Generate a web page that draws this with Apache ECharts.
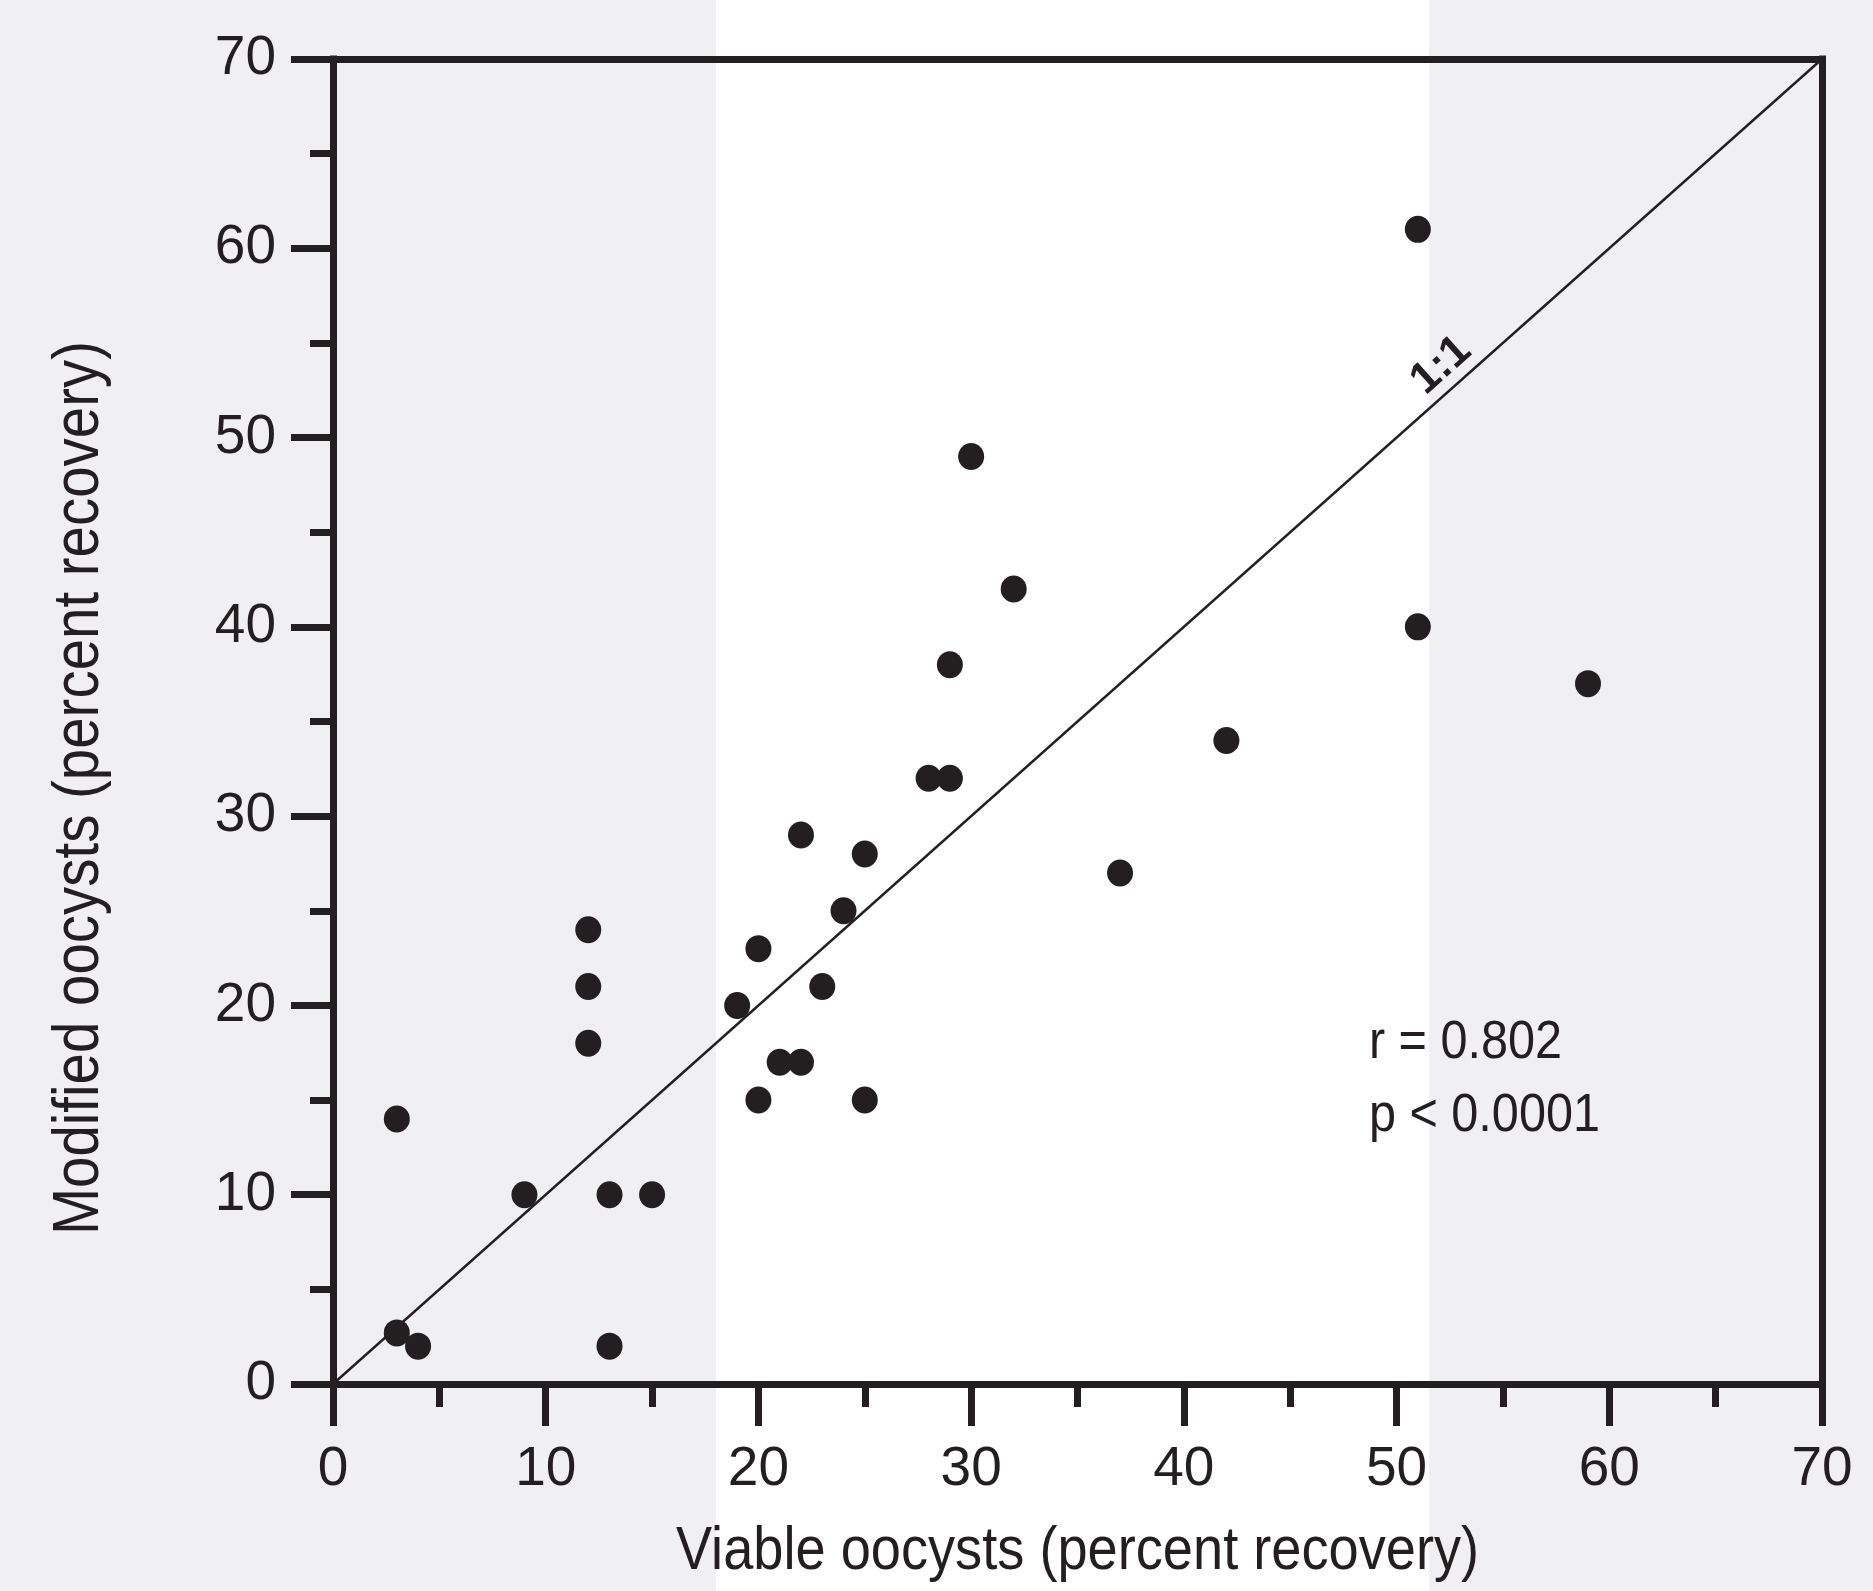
<!DOCTYPE html>
<html>
<head>
<meta charset="utf-8">
<script src="https://cdn.jsdelivr.net/npm/echarts@6/dist/echarts.min.js"></script>
<style>
html,body{margin:0;padding:0;background:#f0f0f2;}
#c{width:1873px;height:1591px;}
</style>
</head>
<body>
<div id="c"></div>
<script>
// Data
const viable   = [3, 4, 3, 9, 12, 12, 12, 13, 13, 15, 19, 20, 20, 21, 22, 22, 23, 24, 25, 25, 28, 29, 29, 30, 32, 37, 42, 51, 51, 59];
const modified = [2.7, 2, 14, 10, 24, 21, 18, 10, 2, 10, 20, 23, 15, 17, 17, 29, 21, 25, 28, 15, 32, 32, 38, 49, 42, 27, 34, 61, 40, 37];
const identityLine = [[0, 0], [70, 70]];
const xTicks = [0, 10, 20, 30, 40, 50, 60, 70];
const yTicks = [0, 10, 20, 30, 40, 50, 60, 70];
const xTitle = 'Viable oocysts (percent recovery)';
const yTitle = 'Modified oocysts (percent recovery)';
const statsLines = ['r = 0.802', 'p < 0.0001'];
const identityLabel = '1:1';

const INK = '#231f20';
const FONT = '"Liberation Sans Narrow", "Arial Narrow", "Liberation Sans", Arial, sans-serif';

const points = viable.map((v, i) => [v, modified[i]]);

const chart = echarts.init(document.getElementById('c'), null, {renderer: 'canvas'});

function mainAxis(extra) {
  return Object.assign({
    type: 'value', min: 0, max: 70, interval: 10,
    axisLine: {show: true, onZero: false, lineStyle: {color: INK, width: 7, cap: 'square'}},
    axisTick: {show: true, inside: false, length: 42, lineStyle: {color: INK, width: 7}},
    minorTick: {show: true, splitNumber: 2, length: 23, lineStyle: {color: INK, width: 7}},
    splitLine: {show: false}
  }, extra);
}
function frameAxis(extra) {
  return Object.assign({
    type: 'value', min: 0, max: 70, interval: 10,
    axisLine: {show: true, onZero: false, lineStyle: {color: INK, width: 7, cap: 'square'}},
    axisTick: {show: false}, minorTick: {show: false},
    splitLine: {show: false}, axisLabel: {show: false}
  }, extra);
}

chart.setOption({
  backgroundColor: '#f0f0f2',
  animation: false,
  grid: {left: 333, right: 51, top: 59, bottom: 207, containLabel: false},
  xAxis: [
    mainAxis({position: 'bottom',
      axisLabel: {color: INK, fontSize: 55, fontFamily: FONT, margin: 58,
        formatter: v => (xTicks.indexOf(v) >= 0 ? String(v) : '')}}),
    frameAxis({position: 'top'})
  ],
  yAxis: [
    mainAxis({position: 'left',
      axisLabel: {color: INK, fontSize: 55, fontFamily: FONT, margin: 57,
        formatter: v => (yTicks.indexOf(v) >= 0 ? String(v) : '')}}),
    frameAxis({position: 'right'})
  ],
  series: [
    {type: 'line', data: identityLine, symbol: 'none', silent: true, z: 1,
      lineStyle: {color: INK, width: 2.4}},
    {type: 'scatter', data: points, symbol: 'circle', symbolSize: [26, 27], z: 3,
      itemStyle: {color: INK, opacity: 1}}
  ]
});

// Annotations anchored in data coordinates
const toPx = p => chart.convertToPixel({gridIndex: 0}, p);
const idPos = toPx([52.1, 53.8]);
const p0 = toPx([0, 0]), p70 = toPx([70, 70]);
const angle = Math.atan2(p0[1] - p70[1], p70[0] - p0[0]);
const rPos = toPx([48.7, 18.0]);
const pPos = toPx([48.7, 14.15]);
const gridMidX = (p0[0] + p70[0]) / 2;

chart.setOption({
  graphic: [
    {type: 'rect', z: -10, silent: true, shape: {x: 716, y: 0, width: 713, height: 1591}, style: {fill: '#ffffff'}},
    {type: 'text', x: gridMidX, y: 1552, scaleX: 0.874, z: 10, silent: true,
      style: {text: xTitle, fill: INK, font: '62px ' + FONT, textAlign: 'center', textVerticalAlign: 'middle'}},
    {type: 'text', x: 80, y: 788, rotation: Math.PI / 2, scaleX: 0.875, z: 10, silent: true,
      style: {text: yTitle, fill: INK, font: '64.5px ' + FONT, textAlign: 'center', textVerticalAlign: 'middle'}},
    {type: 'text', x: idPos[0], y: idPos[1], rotation: angle, z: 10, silent: true,
      style: {text: identityLabel, fill: INK, font: 'bold 44px ' + FONT, textAlign: 'center', textVerticalAlign: 'middle'}},
    {type: 'text', x: rPos[0], y: rPos[1], scaleX: 0.9, z: 10, silent: true,
      style: {text: statsLines[0], fill: INK, font: '54px ' + FONT, textAlign: 'left', textVerticalAlign: 'middle'}},
    {type: 'text', x: pPos[0], y: pPos[1], scaleX: 0.9, z: 10, silent: true,
      style: {text: statsLines[1], fill: INK, font: '54px ' + FONT, textAlign: 'left', textVerticalAlign: 'middle'}}
  ]
});
</script>
</body>
</html>
